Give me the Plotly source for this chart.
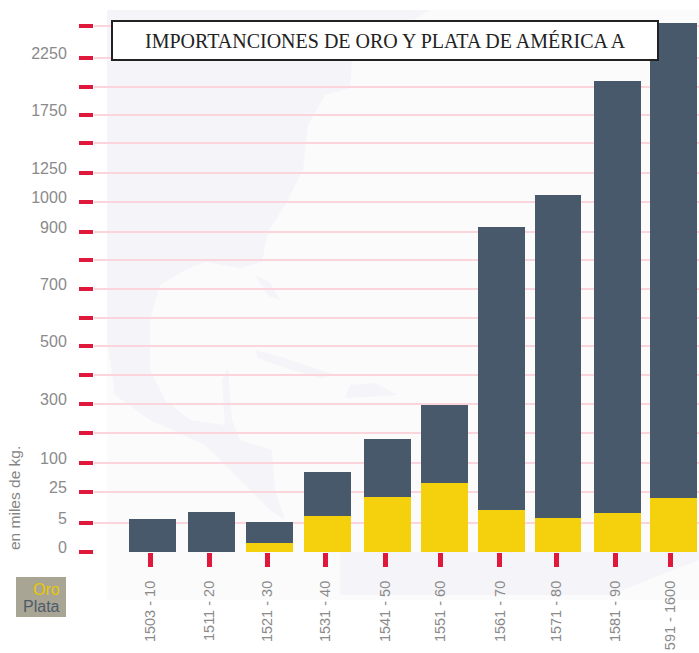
import numpy as np
import plotly.graph_objects as go

periodos = ["1503 - 10", "1511 - 20", "1521 - 30", "1531 - 40", "1541 - 50",
            "1551 - 60", "1561 - 70", "1571 - 80", "1581 - 90", "591 - 1600"]
oro = [0, 0, 1.6, 9.5, 21.8, 48, 13.4, 8.2, 11.5, 21]
plata = [7.6, 12, 4.0, 67.5, 158, 249, 904, 1052, 2040, 2499]

# the source chart's vertical scale is not uniform: each tick value and where it sits on the axis
escala = [0, 5, 25, 100, 200, 300, 400, 500, 600, 700, 800, 900, 1000, 1250, 1500, 1750, 2000, 2250, 2500, 2750]
posicion_escala = [0, 29, 60, 89, 119, 148, 177, 206, 234, 263, 292, 320, 350, 379, 409, 437, 465, 494, 526, 558]
etiquetas_y = ["0", "5", "25", "100", "", "300", "", "500", "", "700", "", "900", "1000", "1250", "", "1750", "", "2250", ""]
x_barras = [0.015, 1.035, 2.035, 3.035, 4.065, 5.055, 6.035, 7.015, 8.035, 9.015]
x_ticks = [-0.02, 1.0, 2.0, 3.0, 4.04, 4.99, 6.01, 6.98, 8.0, 8.96]

L, B, W, H = 94, 552, 605, 542  # plot area in page pixels


def px(xp):
    return (xp - L) / W


def py(yp):
    return (B - yp) / H


def a_eje(v):
    return np.interp(v, escala, posicion_escala)


def poligono(puntos):
    return "M " + " L ".join(f"{px(a):.4f},{py(b):.4f}" for a, b in puntos) + " Z"


# faded map behind the chart (decoration, page pixels)
mapa = [
    [(107, 10), (430, 10), (390, 35), (352, 62), (350, 88), (325, 95), (308, 125), (303, 170), (285, 205),
     (268, 232), (262, 262), (240, 268), (205, 262), (185, 270), (160, 285), (150, 320), (150, 370), (165, 400),
     (190, 420), (225, 425), (222, 380), (228, 368), (232, 420), (240, 440), (272, 450), (275, 490), (285, 520),
     (270, 510), (240, 480), (205, 445), (150, 420), (115, 395), (107, 340)],
    [(255, 350), (285, 358), (335, 375), (320, 378), (285, 368), (258, 358)],
    [(350, 385), (375, 383), (398, 395), (370, 397), (345, 398)],
    [(255, 275), (270, 282), (280, 300), (268, 296)],
    [(340, 552), (699, 552), (699, 560), (610, 595), (340, 595)],
]

oro_pos = a_eje(oro)
total_pos = a_eje(np.array(oro) + np.array(plata))

fig = go.Figure()
fig.add_bar(x=x_barras, y=oro_pos, width=0.81, name="Oro", marker_color="#f5d10d", marker_line_width=0,
            customdata=oro, hovertemplate="Oro: %{customdata}<extra></extra>")
fig.add_bar(x=x_barras, y=total_pos - oro_pos, width=0.81, name="Plata", marker_color="#47596a", marker_line_width=0,
            customdata=plata, hovertemplate="Plata: %{customdata}<extra></extra>")

shapes = [
    dict(type="rect", xref="paper", yref="paper", layer="below", x0=px(107), x1=1, y0=py(600), y1=1,
         fillcolor="#fbfbfc", line_width=0),
]
for p in mapa:
    shapes.append(dict(type="path", xref="paper", yref="paper", layer="below", line_width=0,
                       fillcolor="#f5f4f8", path=poligono(p)))
shapes += [
    dict(type="rect", xref="paper", yref="paper", layer="above", x0=px(112), x1=px(658), y0=py(60), y1=py(21),
         fillcolor="#ffffff", line=dict(color="#222222", width=2)),
    dict(type="rect", xref="paper", yref="paper", layer="above", x0=px(16), x1=px(66), y0=py(617), y1=py(577),
         fillcolor="#a9a595", line_width=0),
]

annotations = [
    dict(text="IMPORTANCIONES DE ORO Y PLATA DE AMÉRICA A", xref="paper", yref="paper",
         x=px(385), y=py(41), showarrow=False, xanchor="center", yanchor="middle",
         font=dict(family="Liberation Serif", size=20, color="#222222")),
    dict(text="Oro", xref="paper", yref="paper", x=px(62), y=py(589), showarrow=False,
         xanchor="right", yanchor="middle", font=dict(family="Liberation Sans", size=16, color="#e8c900")),
    dict(text="Plata", xref="paper", yref="paper", x=px(21), y=py(606), showarrow=False,
         xanchor="left", yanchor="middle", font=dict(family="Liberation Sans", size=16, color="#4d5c6b")),
    dict(text="en miles de kg.", xref="paper", yref="paper", x=px(14), y=py(498), showarrow=False,
         textangle=-90, xanchor="center", yanchor="middle",
         font=dict(family="Liberation Sans", size=15.5, color="#858585")),
]

fig.update_layout(
    width=699, height=653, autosize=False, showlegend=False,
    margin=dict(l=94, r=0, t=10, b=101, pad=0),
    paper_bgcolor="#ffffff", plot_bgcolor="rgba(0,0,0,0)",
    barmode="stack",
    shapes=shapes, annotations=annotations,
    font=dict(family="Liberation Sans", color="#8a8a8a"),
    xaxis=dict(range=[-1.0, 9.45], tickmode="array", tickvals=x_ticks, ticktext=periodos,
               tickangle=-90, ticks="outside", ticklen=14, tickwidth=5, tickcolor="#e0193c",
               showgrid=False, zeroline=False, showline=False, ticklabelstandoff=8,
               tickfont=dict(size=14.5, color="#8a8a8a")),
    yaxis=dict(range=[0, 542], tickmode="array", tickvals=posicion_escala[:-1], ticktext=etiquetas_y,
               ticks="outside", ticklen=14, tickwidth=4, tickcolor="#e0193c",
               showgrid=True, gridcolor="#fad5dc", gridwidth=2, zeroline=False, showline=False,
               ticklabelstandoff=9, ticklabelshift=-5, tickfont=dict(size=16, color="#8a8a8a")),
)

fig.write_html("out.html", config={"displayModeBar": False},
               post_script="document.body.style.margin='0';")
